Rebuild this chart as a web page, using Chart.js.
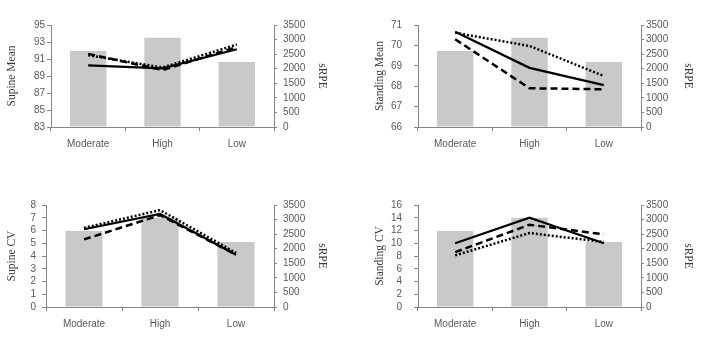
<!DOCTYPE html>
<html>
<head>
<meta charset="utf-8">
<script src="https://cdn.jsdelivr.net/npm/chart.js@4.4.1/dist/chart.umd.min.js"></script>
<style>
  html, body { margin: 0; padding: 0; background: #ffffff; }
  #wrap { position: relative; width: 709px; height: 353px; background: #ffffff; }
  canvas { position: absolute; }
</style>
</head>
<body>
<div id="wrap">
  <canvas id="c1" width="354" height="176" style="left:0px;top:0px;width:354px;height:176px"></canvas>
  <canvas id="c2" width="354" height="176" style="left:355px;top:0px;width:354px;height:176px"></canvas>
  <canvas id="c3" width="354" height="176" style="left:0px;top:177px;width:354px;height:176px"></canvas>
  <canvas id="c4" width="354" height="176" style="left:355px;top:177px;width:354px;height:176px"></canvas>
</div>
<script>
// ---- data ----
const categories = ['Moderate', 'High', 'Low'];
const srpe = [2610, 3060, 2230];
const srpeTicks = { min: 0, max: 3500, step: 500 };

const supineMeanSolid  = [90.25, 89.9, 92.15];
const supineMeanDashed = [91.6, 89.7, 92.4];
const supineMeanDotted = [91.45, 90.0, 92.7];
const supineMeanTicks  = { min: 83, max: 95, step: 2 };

const standingMeanSolid  = [70.67, 68.9, 68.05];
const standingMeanDashed = [70.3, 67.9, 67.85];
const standingMeanDotted = [70.62, 69.97, 68.5];
const standingMeanTicks  = { min: 66, max: 71, step: 1 };

const supineCVSolid  = [6.1, 7.3, 4.1];
const supineCVDashed = [5.3, 7.2, 4.1];
const supineCVDotted = [6.2, 7.6, 4.25];
const supineCVTicks  = { min: 0, max: 8, step: 1 };

const standingCVSolid  = [10.0, 14.0, 10.0];
const standingCVDashed = [8.6, 12.9, 11.4];
const standingCVDotted = [8.1, 11.6, 10.2];
const standingCVTicks  = { min: 0, max: 16, step: 2 };

// ---- styling ----
const AXIS = '#868686';
const TICKTXT = '#595959';
const TITLETXT = '#3c3c3c';
const BAR = '#c9c9c9';
const tickFont = { family: '"Liberation Sans", Arial, sans-serif', size: 10 };
const titleFont = { family: '"Liberation Serif", "Times New Roman", serif', size: 11.5 };
const plain = v => String(v);

function makeChart(id, title, solid, dashed, dotted, yt, lay) {
  const ctx = document.getElementById(id);
  return new Chart(ctx, {
    data: {
      labels: categories,
      datasets: [
        { type: 'line', data: solid, borderColor: '#000', borderWidth: 2.2, pointRadius: 0, yAxisID: 'y', order: 1, tension: 0 },
        { type: 'line', data: dashed, borderColor: '#000', borderWidth: 2.5, borderDash: [7, 4], pointRadius: 0, yAxisID: 'y', order: 1, tension: 0 },
        { type: 'line', data: dotted, borderColor: '#000', borderWidth: 2.5, borderDash: [2, 2], pointRadius: 0, yAxisID: 'y', order: 1, tension: 0 },
        { type: 'bar', data: srpe, backgroundColor: BAR, borderWidth: 0, yAxisID: 'y1', order: 2, categoryPercentage: 1, barPercentage: 0.49 }
      ]
    },
    options: {
      responsive: false,
      animation: false,
      devicePixelRatio: 1,
      layout: { padding: { top: lay.top, right: 0, bottom: 0, left: 0 } },
      plugins: { legend: { display: false }, tooltip: { enabled: false } },
      scales: {
        x: {
          type: 'category',
          offset: true,
          grid: { display: true, drawOnChartArea: false, drawTicks: true, tickLength: 4, color: AXIS, offset: true },
          border: { display: true, color: AXIS, width: 1 },
          ticks: { color: TICKTXT, font: tickFont, padding: 7, maxRotation: 0, autoSkip: false },
          afterFit: s => { s.height = lay.xh; }
        },
        y: {
          position: 'left',
          min: yt.min, max: yt.max,
          grid: { display: true, drawOnChartArea: false, drawTicks: true, tickLength: 4, color: AXIS },
          border: { display: true, color: AXIS, width: 1 },
          ticks: { stepSize: yt.step, autoSkip: false, callback: plain, color: TICKTXT, font: tickFont, padding: lay.lpad },
          title: { display: true, text: title, color: TITLETXT, font: titleFont, padding: { top: lay.ltitle, bottom: 0 } },
          afterFit: s => { s.width = lay.lw; }
        },
        y1: {
          position: 'right',
          min: srpeTicks.min, max: srpeTicks.max,
          grid: { display: true, drawOnChartArea: false, drawTicks: true, tickLength: 3, color: AXIS },
          border: { display: true, color: AXIS, width: 1 },
          ticks: { stepSize: srpeTicks.step, autoSkip: false, callback: plain, color: TICKTXT, font: tickFont, padding: lay.rpad },
          title: { display: true, text: 'sRPE', color: TITLETXT, font: titleFont, padding: { top: lay.rtitle, bottom: 0 } },
          afterFit: s => { s.width = lay.rw; }
        }
      }
    }
  });
}

makeChart('c1', 'Supine Mean', supineMeanSolid, supineMeanDashed, supineMeanDotted, supineMeanTicks,
  { top: 25, xh: 49, lw: 51, lpad: 2, ltitle: 5, rw: 80, rpad: 6, rtitle: 25 });
makeChart('c2', 'Standing Mean', standingMeanSolid, standingMeanDashed, standingMeanDotted, standingMeanTicks,
  { top: 25, xh: 49, lw: 63, lpad: 12, ltitle: 18, rw: 68, rpad: 2, rtitle: 14 });
makeChart('c3', 'Supine CV', supineCVSolid, supineCVDashed, supineCVDotted, supineCVTicks,
  { top: 28, xh: 46, lw: 46, lpad: 6, ltitle: 5, rw: 80, rpad: 6, rtitle: 25 });
makeChart('c4', 'Standing CV', standingCVSolid, standingCVDashed, standingCVDotted, standingCVTicks,
  { top: 28, xh: 46, lw: 63, lpad: 12, ltitle: 18, rw: 68, rpad: 2, rtitle: 14 });
</script>
</body>
</html>
